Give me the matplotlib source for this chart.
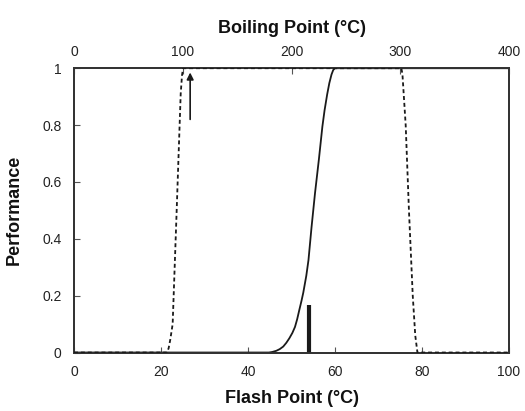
import matplotlib
matplotlib.use("Agg")
import matplotlib.pyplot as plt

plt.rcParams['font.family'] = ['Liberation Sans', 'DejaVu Sans']

# Flash point performance curve (solid), x in °C flash point
flash_x = [0, 44.8, 45.6, 46.5, 47.3, 48.1, 48.8, 49.5, 50.2, 50.8, 51.3, 51.8, 52.3, 52.7,
           53.4, 53.9, 54.6, 55.4, 56.3, 57.1, 57.6, 58.2, 58.7, 59.2, 59.6, 60.0, 100]
flash_y = [0, 0.0, 0.002, 0.006, 0.012, 0.021, 0.034, 0.05, 0.069, 0.09, 0.117, 0.15, 0.182, 0.21,
           0.27, 0.325, 0.44, 0.56, 0.68, 0.795, 0.852, 0.908, 0.948, 0.978, 0.994, 1.0, 1.0]

# Boiling point performance curve (dashed), x in °C boiling point
boil_x = [0, 85.5, 87.0, 88.5, 90.7, 94.4, 98.1, 99.3, 100.3, 301.0, 302.0, 305.0, 308.0, 311.5, 313.8, 315.8, 400]
boil_y = [0, 0.0, 0.015, 0.045, 0.1, 0.5, 0.91, 0.975, 1.0, 1.0, 0.98, 0.8, 0.5, 0.2, 0.06, 0.0, 0.0]

# Markers: arrow (boiling point scale) and bar (flash point scale)
arrow_bp = 106.8
arrow_y = (0.82, 0.985)
bar_fp = 54.1
bar_y = (0.0, 0.166)

x_ticks = [0, 20, 40, 60, 80, 100]
top_ticks = [0, 100, 200, 300, 400]
y_ticks = [0, 0.2, 0.4, 0.6, 0.8, 1.0]
y_labels = ['0', '0.2', '0.4', '0.6', '0.8', '1']

fig = plt.figure(figsize=(5.25, 4.11), dpi=100)
ax = fig.add_axes([0.141, 0.1423, 0.8285, 0.6917])
ax2 = ax.twiny()

ink = '#1a1a1a'
ax.plot(flash_x, flash_y, color=ink, lw=1.3, solid_capstyle='butt', solid_joinstyle='round', zorder=3)
ax2.plot(boil_x, boil_y, color=ink, lw=1.3, ls=(0, (2.2, 1.6)), zorder=3)

ax.plot([bar_fp, bar_fp], bar_y, color=ink, lw=3.0, solid_capstyle='butt', zorder=4)
ax2.annotate('', xy=(arrow_bp, arrow_y[1]), xytext=(arrow_bp, arrow_y[0]),
             arrowprops=dict(arrowstyle='-|>', color=ink, lw=1.2,
                             mutation_scale=10, shrinkA=0, shrinkB=0))

ax.set_xlim(0, 100)
ax.set_ylim(0, 1)
ax2.set_xlim(0, 400)

ax.set_xticks(x_ticks)
ax.set_xticklabels([str(v) for v in x_ticks])
ax.set_yticks(y_ticks)
ax.set_yticklabels(y_labels)
ax2.set_xticks(top_ticks)
ax2.set_xticklabels([str(v) for v in top_ticks])

for a in (ax, ax2):
    for s in a.spines.values():
        s.set_linewidth(1.3)
        s.set_color('#333333')

ax.tick_params(axis='both', direction='in', length=4, width=0.8, colors='#555555',
               labelcolor='#222222', labelsize=10, pad=9)
ax.tick_params(axis='x', top=False)
ax.tick_params(axis='y', right=False)
ax2.tick_params(axis='x', direction='in', length=4, width=0.8, colors='#555555',
                labelcolor='#222222', labelsize=10, pad=7)

ax.set_xlabel('Flash Point (°C)', fontsize=13, fontweight='bold', labelpad=8, color='#111111')
ax.set_ylabel('Performance', fontsize=13, fontweight='bold', labelpad=14, color='#111111')
ax2.set_xlabel('Boiling Point (°C)', fontsize=13, fontweight='bold', labelpad=8, color='#111111')

fig.savefig('out.png', dpi=100)
